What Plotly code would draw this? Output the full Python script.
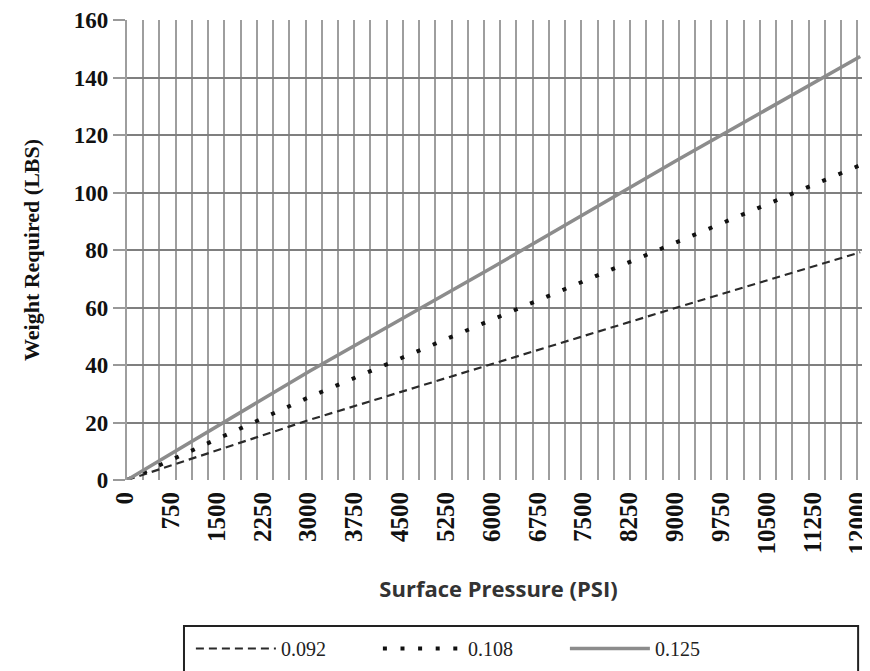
import plotly.graph_objects as go

# Data
pressure = [0, 3000, 6000, 9000, 12000]
w_092 = [0, 21, 40.5, 60, 79.2]
w_108 = [0, 29, 56, 82.7, 109.5]
w_125 = [0, 38, 74.2, 111.2, 147.3]
series_names = ["0.092", "0.108", "0.125"]
x_ticks = [0, 750, 1500, 2250, 3000, 3750, 4500, 5250, 6000, 6750, 7500,
           8250, 9000, 9750, 10500, 11250, 12000]
y_ticks = [0, 20, 40, 60, 80, 100, 120, 140, 160]

serif = "Liberation Serif, Times New Roman, serif"

fig = go.Figure()
fig.add_trace(go.Scatter(x=pressure, y=w_092, mode="lines", name=series_names[0],
                         line=dict(color="#2a2a2a", width=2.2, dash="8px,5px")))
fig.add_trace(go.Scatter(x=pressure, y=w_108, mode="lines", name=series_names[1],
                         line=dict(color="#111111", width=4, dash="4px,13.6px")))
fig.add_trace(go.Scatter(x=pressure, y=w_125, mode="lines", name=series_names[2],
                         line=dict(color="#8c8c8c", width=3.5)))

top_m = 12
bot_m = 191
plot_h = 663 - top_m - bot_m
# legend frame (wider than the legend content, as in the reference)
fig.add_shape(type="rect", xref="paper", yref="paper",
              x0=0.0767, x1=0.984, y0=-146 / plot_h, y1=-0.46,
              line=dict(color="#222", width=2), fillcolor="rgba(0,0,0,0)", layer="above")

fig.update_layout(
    width=862, height=663,
    margin=dict(l=119, r=0, t=top_m, b=bot_m, autoexpand=False),
    paper_bgcolor="white", plot_bgcolor="white",
    showlegend=True,
    legend=dict(orientation="h", x=0.086, xanchor="left", y=-149 / plot_h, yanchor="top",
                borderwidth=0, bgcolor="rgba(0,0,0,0)",
                font=dict(family=serif, size=20, color="#222"),
                entrywidth=92, entrywidthmode="pixels", itemwidth=80),
    xaxis=dict(range=[0, 12160], tickvals=x_ticks, ticktext=[str(v) for v in x_ticks],
               tickangle=-90, showgrid=False, zeroline=False, showline=False,
               ticks="", ticklabelstandoff=6, ticklabelshift=-2, automargin=False,
               ticklabeloverflow="allow",
               tickfont=dict(family=serif, size=25, color="#111", weight="bold"),
               minor=dict(tick0=0, dtick=265.6, showgrid=True, gridcolor="#9e9e9e", gridwidth=2.2),
               title=dict(text="Surface Pressure (PSI)", standoff=28,
                          font=dict(family="Open Sans, Noto Sans, sans-serif", size=22,
                                    color="#333", weight="bold"))),
    yaxis=dict(range=[0, 160], tickvals=y_ticks, showgrid=True, gridcolor="#7f7f7f",
               gridwidth=2, zeroline=False, showline=True, linecolor="#9e9e9e",
               linewidth=2.2, automargin=False, ticklabeloverflow="allow",
               ticks="outside", ticklen=12, tickcolor="#999", tickwidth=1.5,
               tickfont=dict(family=serif, size=23, color="#111", weight="bold"),
               title=dict(text="Weight Required (LBS)", standoff=28,
                          font=dict(family=serif, size=22, color="#111", weight="bold"))),
)

fig.write_html("out.html")
